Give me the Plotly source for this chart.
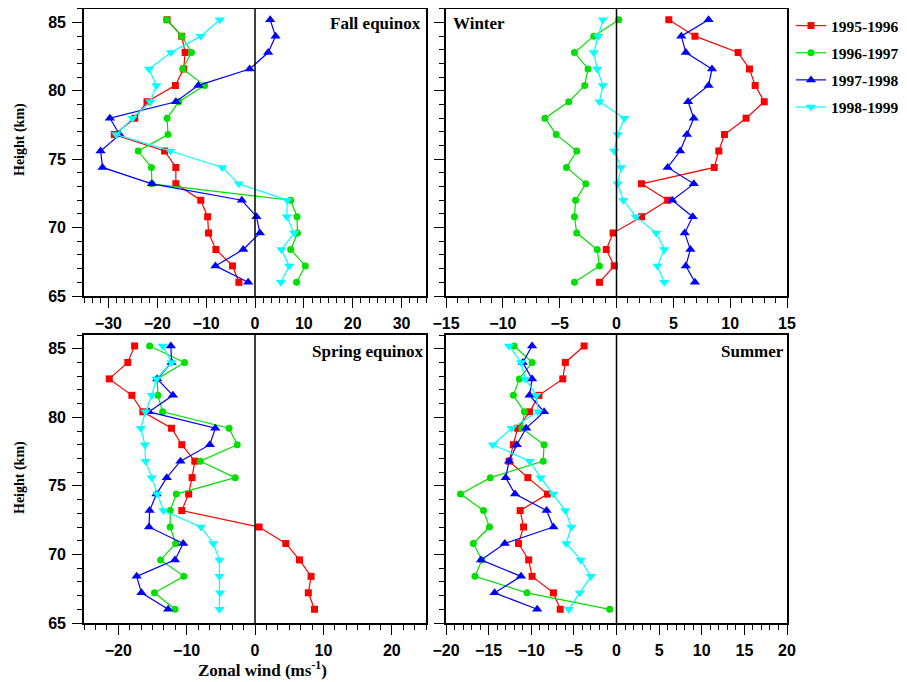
import plotly.graph_objects as go

# ---------------- data ----------------
heights = [85.2, 84.0, 82.8, 81.6, 80.4, 79.2, 78.0, 76.8, 75.6,
           74.4, 73.2, 72.0, 70.8, 69.6, 68.4, 67.2, 66.0]

series_names = ["1995-1996", "1996-1997", "1997-1998", "1998-1999"]

# Fall equinox
fall_9596 = [-18.0, -15.0, -14.3, -14.6, -16.3, -22.1, -24.6, -28.8, -18.5,
             -16.2, -16.2, -11.1, -9.7, -9.5, -8.0, -4.6, -3.3]
fall_9697 = [-18.1, -15.0, -13.0, -14.8, -10.3, -15.6, -18.0, -17.8, -23.9,
             -21.2, -21.1, 7.3, 8.6, 8.7, 7.3, 10.3, 8.5]
fall_9798 = [3.1, 4.2, 2.7, -1.1, -11.6, -16.2, -29.7, -27.7, -31.6,
             -31.2, -21.1, -2.7, 0.3, 1.0, -2.4, -8.1, -1.4]
fall_9899 = [-7.2, -11.1, -17.2, -21.7, -20.2, -21.4, -25.1, -28.4, -17.3,
             -6.7, -3.3, 6.6, 6.5, 8.0, 5.4, 7.0, 5.3]

# Winter
winter_9596 = [4.6, 6.9, 10.7, 11.7, 12.2, 13.0, 11.4, 9.5, 9.0,
               8.6, 2.2, 4.5, 2.2, -0.3, -0.9, -0.2, -1.5]
winter_9697 = [0.2, -2.0, -3.7, -2.5, -2.8, -4.2, -6.3, -5.3, -3.5,
               -4.4, -2.7, -3.6, -3.7, -3.5, -1.7, -1.5, -3.7]
winter_9798 = [8.1, 5.7, 6.1, 8.4, 8.1, 6.3, 6.8, 6.2, 5.6,
               4.5, 6.8, 4.9, 6.7, 6.0, 6.5, 6.1, 6.9]
winter_9899 = [-1.2, -1.6, -2.0, -1.7, -1.2, -1.5, 0.7, 0.1, -0.2,
               0.4, 0.1, 0.6, 1.7, 3.5, 4.2, 3.6, 4.2]

# Spring equinox
spring_9596 = [-17.6, -18.6, -21.3, -18.0, -16.4, -12.2, -10.7, -8.8, -9.2,
               -9.7, -10.7, 0.6, 4.5, 6.5, 8.2, 7.8, 8.7]
spring_9697 = [-15.4, -10.3, -14.3, -14.2, -13.5, -3.8, -2.6, -8.0, -2.9,
               -11.5, -12.4, -12.4, -11.6, -13.8, -10.4, -14.7, -11.7]
spring_9798 = [-12.3, -12.2, -14.3, -12.0, -15.5, -5.8, -6.6, -10.9, -12.9,
               -14.4, -15.4, -15.5, -10.5, -11.7, -17.3, -16.6, -12.7]
spring_9899 = [-13.5, -12.2, -14.4, -15.1, -16.0, -16.7, -16.1, -16.0, -15.1,
               -14.3, -13.4, -7.9, -6.1, -5.2, -5.2, -5.1, -5.2]

# Summer
summer_9596 = [-3.8, -6.0, -6.3, -9.1, -10.2, -11.6, -12.1, -12.6, -10.4,
               -8.1, -11.3, -10.9, -11.5, -10.3, -9.9, -7.4, -6.6]
summer_9697 = [-12.0, -9.9, -11.4, -12.1, -10.8, -11.1, -8.5, -8.6, -14.8,
               -18.3, -15.6, -14.9, -16.8, -15.8, -16.6, -10.5, -0.8]
summer_9798 = [-9.9, -11.0, -9.9, -10.2, -8.5, -10.6, -11.7, -12.6, -13.0,
               -11.9, -8.2, -7.4, -13.1, -15.9, -11.2, -14.3, -9.3]
summer_9899 = [-12.6, -11.2, -10.7, -9.4, -9.2, -12.3, -14.5, -10.2, -8.9,
               -7.4, -6.0, -5.3, -5.9, -4.2, -3.0, -4.3, -5.6]

panel_titles = ["Fall equinox", "Winter", "Spring equinox", "Summer"]
x_ranges = [[-35, 35], [-15, 15], [-25, 25], [-20, 20]]
x_dticks = [10, 5, 10, 5]
x_minor = [10 / 6, 1, 10 / 6, 1]

panels = [
    [fall_9596, fall_9697, fall_9798, fall_9899],
    [winter_9596, winter_9697, winter_9798, winter_9899],
    [spring_9596, spring_9697, spring_9798, spring_9899],
    [summer_9596, summer_9697, summer_9798, summer_9899],
]

# ---------------- style ----------------
colors = ["#FF0000", "#00E000", "#0000FF", "#00FFFF"]
symbols = ["square", "circle", "triangle-up", "triangle-down"]
msizes = [7, 7, 9, 9]

# page has an 8px body margin -> figure drawn from (8, 8)
OFF = 8
W, H = 907 - OFF, 682 - OFF


def px(x):
    return (x - OFF) / W


def py(y):
    return 1 - (y - OFF) / H


# panel pixel boxes in page coords (left, right, top, bottom)
boxes = [(84, 426, 8.8, 296), (446, 787, 8.8, 296),
         (84, 426, 335, 623), (446, 787, 335, 623)]

fig = go.Figure()

for p, data in enumerate(panels):
    ax = "" if p == 0 else str(p + 1)
    for s, vals in enumerate(data):
        fig.add_trace(go.Scatter(
            x=vals, y=heights, mode="lines+markers",
            name=series_names[s],
            legendgroup=series_names[s],
            showlegend=(p == 0),
            line=dict(color=colors[s], width=1.2),
            marker=dict(symbol=symbols[s], size=msizes[s], color=colors[s]),
            xaxis="x" + ax, yaxis="y" + ax,
        ))

tickfont = dict(family="Liberation Sans", size=16, color="black", weight="bold")

layout_axes = {}
for p in range(4):
    l, r, t, b = boxes[p]
    ax = "" if p == 0 else str(p + 1)
    layout_axes["xaxis" + ax] = dict(
        domain=[px(l), px(r)], anchor="y" + ax,
        range=x_ranges[p], dtick=x_dticks[p], tick0=0,
        showgrid=False, zeroline=False, automargin=False,
        showline=True, linecolor="black", linewidth=1.6, mirror=True,
        ticks="outside", ticklen=10, tickwidth=1.4, tickcolor="black",
        minor=dict(dtick=x_minor[p], tick0=0, ticks="outside", ticklen=5,
                   tickwidth=1, tickcolor="black", showgrid=False),
        tickfont=tickfont, ticklabelstandoff=2,
    )
    layout_axes["yaxis" + ax] = dict(
        domain=[py(b), py(t)], anchor="x" + ax,
        range=[65, 86], dtick=5, tick0=0,
        showgrid=False, zeroline=False, automargin=False,
        showline=True, linecolor="black", linewidth=1.6, mirror=True,
        ticks="outside", ticklen=10, tickwidth=1.4, tickcolor="black",
        minor=dict(dtick=1, ticks="outside", ticklen=5, tickwidth=1,
                   tickcolor="black", showgrid=False),
        tickfont=tickfont, ticklabelstandoff=3,
        showticklabels=(p in (0, 2)),
    )

fig.update_layout(**layout_axes)

# zero lines
shapes = []
for p in range(4):
    ax = "" if p == 0 else str(p + 1)
    shapes.append(dict(type="line", xref="x" + ax, yref="y" + ax + " domain",
                       x0=0, x1=0, y0=0, y1=1,
                       line=dict(color="black", width=1.5), layer="above"))

titlefont = dict(family="Liberation Serif", size=17, color="black", weight="bold")
ytitlefont = dict(family="Liberation Serif", size=14, color="black", weight="bold")
annotations = [
    dict(text="Fall equinox", x=px(423), y=py(23), xref="paper", yref="paper",
         xanchor="right", yanchor="middle", showarrow=False, font=titlefont),
    dict(text="Winter", x=px(451), y=py(23), xref="paper", yref="paper",
         xanchor="left", yanchor="middle", showarrow=False, font=titlefont),
    dict(text="Spring equinox", x=px(426), y=py(351), xref="paper", yref="paper",
         xanchor="right", yanchor="middle", showarrow=False, font=titlefont),
    dict(text="Summer", x=px(786), y=py(351), xref="paper", yref="paper",
         xanchor="right", yanchor="middle", showarrow=False, font=titlefont),
    dict(text="Height (km)", x=px(20), y=py(140), xref="paper", yref="paper",
         xanchor="center", yanchor="middle", textangle=-90, showarrow=False,
         font=ytitlefont),
    dict(text="Height (km)", x=px(20), y=py(478), xref="paper", yref="paper",
         xanchor="center", yanchor="middle", textangle=-90, showarrow=False,
         font=ytitlefont),
    dict(text="Zonal wind (ms<sup>-1</sup>)", x=px(262), y=py(669),
         xref="paper", yref="paper", xanchor="center", yanchor="middle",
         showarrow=False,
         font=dict(family="Liberation Serif", size=17, color="black", weight="bold")),
]

fig.update_layout(
    width=W, height=H,
    margin=dict(l=0, r=0, t=0, b=0, autoexpand=False),
    paper_bgcolor="white", plot_bgcolor="white",
    shapes=shapes, annotations=annotations,
    showlegend=True,
    legend=dict(x=px(791), y=py(9), xanchor="left", yanchor="top",
                font=dict(family="Liberation Serif", size=15.5, color="black",
                          weight="bold"),
                traceorder="grouped", tracegroupgap=4,
                bgcolor="rgba(0,0,0,0)", borderwidth=0,
                itemwidth=30),
)

fig.write_html("out.html")
